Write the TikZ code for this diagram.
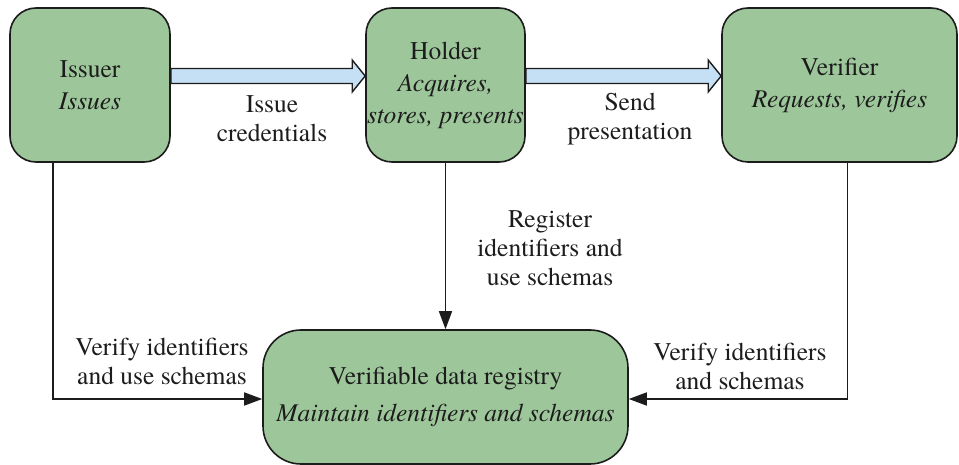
\documentclass[tikz,border=0pt]{standalone}
\usepackage{fontspec}
\setmainfont{texgyretermes}[Extension=.otf,UprightFont=*-regular,ItalicFont=*-italic,BoldFont=*-bold,BoldItalicFont=*-bolditalic]
\usetikzlibrary{arrows.meta,calc}
\definecolor{boxgreen}{RGB}{157,199,154}
\definecolor{flowblue}{RGB}{197,224,245}
\definecolor{ink}{RGB}{28,28,28}
\begin{document}
\begin{tikzpicture}[x=1pt,y=-1pt,
  font=\fontsize{25.5}{29}\selectfont,
  role/.style={draw=ink,line width=1.6pt,fill=boxgreen,rounded corners=26pt,
    align=center,inner sep=0pt,text=ink,font=\fontsize{25.5}{32}\selectfont},
  lbl/.style={align=center,inner sep=0pt,text=ink},
  link/.style={draw=ink,line width=1.6pt},
  tip/.style={-{Triangle[length=18pt,width=13pt]}},
  fatarrow/.style={draw=ink,line width=1.4pt,fill=flowblue,line join=miter}]
\useasboundingbox (0,0) rectangle (959,465);

% actors
\node[role,minimum width=160pt,minimum height=154pt] (issuer) at (90,85)
  {Issuer\\\textit{Issues}};
\node[role,minimum width=159pt,minimum height=154pt] (holder) at (445.5,85)
  {Holder\\\textit{Acquires,}\\\textit{stores, presents}};
\node[role,minimum width=235pt,minimum height=154pt] (verifier) at (839.5,85)
  {Verifier\\\textit{Requests, verifies}};
\node[role,rounded corners=38pt,minimum width=365pt,minimum height=134pt] (registry) at (445.5,397)
  {Verifiable data registry\\[5pt]\textit{Maintain identifiers and schemas}};

% wide flow arrows between actors
\foreach \a/\b in {issuer/holder,holder/verifier}{
  \draw[fatarrow]
    let \p1=($(\a.east)+(0,-9)$), \p2=($(\b.west)+(0,-9)$) in
    (\x1,\y1-7.5) -- (\x2-13,\y1-7.5) -- (\x2-13,\y1-16) -- (\x2,\y1)
    -- (\x2-13,\y1+16) -- (\x2-13,\y1+7.5) -- (\x1,\y1+7.5) -- cycle;
}
\node[lbl] (issuelbl) at (272,119) {Issue\\credentials};
\node[lbl] (sendlbl) at (630,119) {Send\\presentation};

% registry connectors
\coordinate (issuerfoot) at ($(issuer.south)+(-37,0)$);
\coordinate (verifierfoot) at ($(verifier.south)+(8,0)$);
\coordinate (regleft) at (registry.west |- 0,399);
\coordinate (regright) at (registry.east |- 0,399);
\draw[link,tip] (issuerfoot) |- (regleft);
\draw[link,tip] (verifierfoot) |- (regright);
\draw[link,tip] (holder.south) -- (registry.north);

\node[lbl] (reglbl) at (550,248) {Register\\identifiers and\\use schemas};
\node[lbl] (verlbl) at (162,361) {Verify identifiers\\and use schemas};
\node[lbl] (verlbl2) at (740,366) {Verify identifiers\\and schemas};
\end{tikzpicture}
\end{document}
